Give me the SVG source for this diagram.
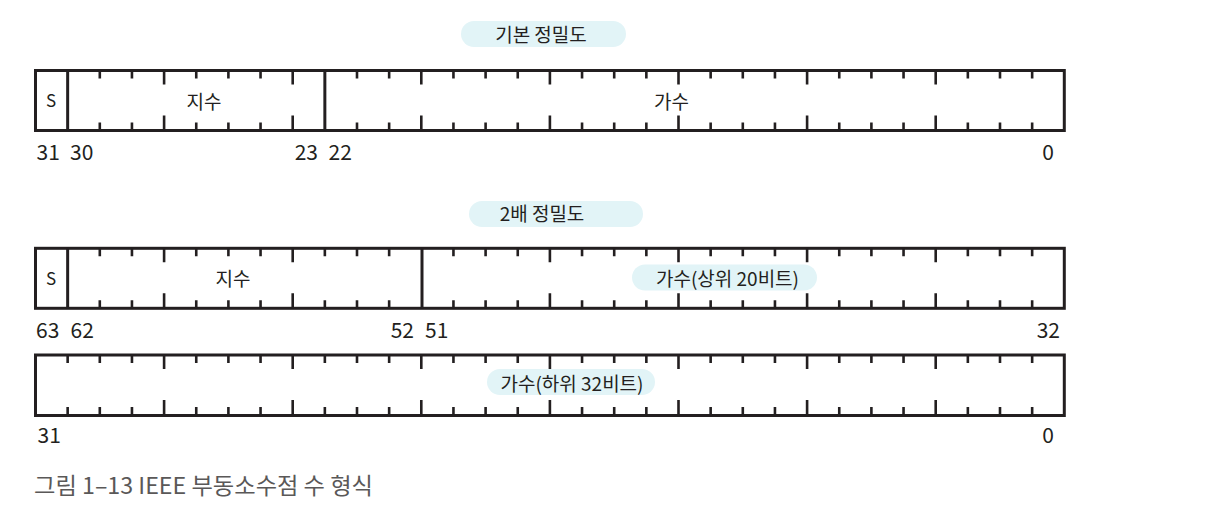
<svg xmlns="http://www.w3.org/2000/svg" xmlns:xlink="http://www.w3.org/1999/xlink" width="1212" height="507" viewBox="0 0 1212 507">
<style>
.bar{fill:#fff;stroke:#231f20;stroke-width:3}
.div{stroke:#231f20;stroke-width:3}
.tick{fill:none;stroke:#231f20;stroke-width:2.6}
.pill{fill:#e2f4f7}
text{font-family:"Noto Sans CJK KR","Noto Sans",sans-serif;fill:#231f20}
.num{font-size:21px}
.lbl{font-size:19px;text-anchor:middle}
.s{font-size:17px;text-anchor:middle}
.end{text-anchor:end}
.cap{font-size:22.5px;fill:#5a5858}
</style>
<defs>
<path id="ts" class="tick" d="M0,0V8M0,60V52"/>
<path id="tl" class="tick" d="M0,0V14M0,60V45"/>
</defs>
<rect width="1212" height="507" fill="#fff"/>

<g id="title-single">
<rect class="pill" x="461" y="21" width="165" height="26" rx="13"/>
<text class="lbl" x="541" y="41.5">기본 정밀도</text>
</g>

<g id="bar-single">
<rect class="bar" x="35.5" y="70.5" width="1028.8" height="60"/>
<line class="div" x1="67.65" y1="70.5" x2="67.65" y2="130.5"/>
<line class="div" x1="324.85" y1="70.5" x2="324.85" y2="130.5"/>
<g transform="translate(0,70.5)">
<use href="#ts" x="99.8"/><use href="#ts" x="131.95"/><use href="#tl" x="164.1"/>
<use href="#ts" x="196.25"/><use href="#ts" x="228.4"/><use href="#ts" x="260.55"/><use href="#tl" x="292.7"/>
<use href="#ts" x="357"/><use href="#ts" x="389.15"/><use href="#tl" x="421.3"/>
<use href="#ts" x="453.45"/><use href="#ts" x="485.6"/><use href="#ts" x="517.75"/><use href="#tl" x="549.9"/>
<use href="#ts" x="582.05"/><use href="#ts" x="614.2"/><use href="#ts" x="646.35"/><use href="#tl" x="678.5"/>
<use href="#ts" x="710.65"/><use href="#ts" x="742.8"/><use href="#ts" x="774.95"/><use href="#tl" x="807.1"/>
<use href="#ts" x="839.25"/><use href="#ts" x="871.4"/><use href="#ts" x="903.55"/><use href="#tl" x="935.7"/>
<use href="#ts" x="967.85"/><use href="#ts" x="1000"/><use href="#ts" x="1032.15"/>
</g>
<text class="s" x="51" y="107">S</text>
<text class="lbl" x="204" y="108.5">지수</text>
<text class="lbl" x="671.5" y="108.5">가수</text>
<text class="num" x="36.5" y="160">31</text>
<text class="num" x="70" y="160">30</text>
<text class="num end" x="318" y="160">23</text>
<text class="num" x="328.5" y="160">22</text>
<text class="num end" x="1054" y="160">0</text>
</g>

<g id="title-double">
<rect class="pill" x="469" y="201" width="174" height="26" rx="13"/>
<text class="lbl" x="542" y="220.5">2배 정밀도</text>
</g>

<g id="bar-double-high">
<rect class="bar" x="35.5" y="248.3" width="1028.8" height="60"/>
<line class="div" x1="67.65" y1="248.3" x2="67.65" y2="308.3"/>
<line class="div" x1="422" y1="248.3" x2="422" y2="308.3"/>
<g transform="translate(0,248.3)">
<use href="#ts" x="99.8"/><use href="#ts" x="131.95"/><use href="#tl" x="164.1"/>
<use href="#ts" x="196.25"/><use href="#ts" x="228.4"/><use href="#ts" x="260.55"/><use href="#tl" x="292.7"/>
<use href="#ts" x="324.85"/><use href="#ts" x="357"/><use href="#ts" x="389.15"/>
<use href="#ts" x="453.45"/><use href="#ts" x="485.6"/><use href="#ts" x="517.75"/><use href="#tl" x="549.9"/>
<use href="#ts" x="582.05"/><use href="#ts" x="614.2"/><use href="#ts" x="646.35"/><use href="#tl" x="678.5"/>
<use href="#ts" x="710.65"/><use href="#ts" x="742.8"/><use href="#ts" x="774.95"/><use href="#tl" x="807.1"/>
<use href="#ts" x="839.25"/><use href="#ts" x="871.4"/><use href="#ts" x="903.55"/><use href="#tl" x="935.7"/>
<use href="#ts" x="967.85"/><use href="#ts" x="1000"/><use href="#ts" x="1032.15"/>
</g>
<text class="s" x="51" y="284.5">S</text>
<text class="lbl" x="233" y="285.5">지수</text>
<rect class="pill" x="632" y="264.5" width="185" height="26" rx="13"/>
<text class="lbl" x="727.5" y="285.5">가수(상위 20비트)</text>
<text class="num" x="36" y="338">63</text>
<text class="num" x="70.5" y="338">62</text>
<text class="num end" x="414" y="338">52</text>
<text class="num" x="425" y="338">51</text>
<text class="num end" x="1060" y="338">32</text>
</g>

<g id="bar-double-low">
<rect class="bar" x="35.5" y="355" width="1028.8" height="60.5"/>
<g transform="translate(0,355)">
<use href="#ts" x="67.65"/><use href="#ts" x="99.8"/><use href="#ts" x="131.95"/><use href="#tl" x="164.1"/>
<use href="#ts" x="196.25"/><use href="#ts" x="228.4"/><use href="#ts" x="260.55"/><use href="#tl" x="292.7"/>
<use href="#ts" x="324.85"/><use href="#ts" x="357"/><use href="#ts" x="389.15"/><use href="#tl" x="421.3"/>
<use href="#ts" x="453.45"/><use href="#ts" x="485.6"/><use href="#ts" x="517.75"/><use href="#tl" x="549.9"/>
<use href="#ts" x="582.05"/><use href="#ts" x="614.2"/><use href="#ts" x="646.35"/><use href="#tl" x="678.5"/>
<use href="#ts" x="710.65"/><use href="#ts" x="742.8"/><use href="#ts" x="774.95"/><use href="#tl" x="807.1"/>
<use href="#ts" x="839.25"/><use href="#ts" x="871.4"/><use href="#ts" x="903.55"/><use href="#tl" x="935.7"/>
<use href="#ts" x="967.85"/><use href="#ts" x="1000"/><use href="#ts" x="1032.15"/>
</g>
<rect class="pill" x="487" y="369" width="168" height="26" rx="13"/>
<text class="lbl" x="572" y="390.5">가수(하위 32비트)</text>
<text class="num" x="37.5" y="442.5">31</text>
<text class="num end" x="1054" y="442.5">0</text>
</g>

<text id="caption" class="cap" x="34" y="494" textLength="339" lengthAdjust="spacingAndGlyphs">그림 1–13 IEEE 부동소수점 수 형식</text>
</svg>
